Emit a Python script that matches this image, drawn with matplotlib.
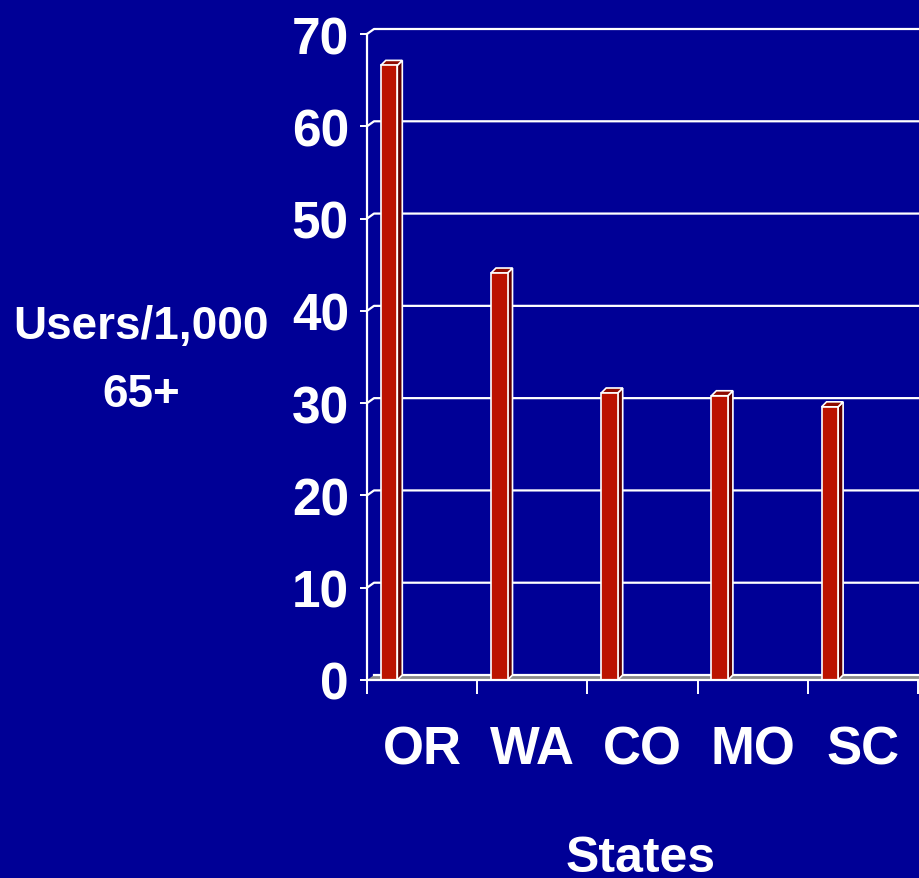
import matplotlib
matplotlib.use("Agg")
import matplotlib.pyplot as plt
from matplotlib.patches import Polygon

# users per 1,000 people aged 65+
states = ["OR", "WA", "CO", "MO", "SC"]
users = [66.6, 44.1, 31.1, 30.8, 29.6]
y_ticks = [0, 10, 20, 30, 40, 50, 60, 70]

bg = "#000096"
red = "#BB1200"
red_side = "#5E0000"
red_top = "#8E0A00"
font = ["Liberation Sans", "DejaVu Sans"]

plt.rcParams["font.family"] = font
plt.rcParams["font.weight"] = "bold"

fig = plt.figure(figsize=(9.19, 8.79), dpi=100, facecolor=bg)
ax = fig.add_axes([367 / 919, 198 / 879, 552 / 919, 646 / 879])
ax.set_facecolor(bg)

xmax = 552 / 110.2
ax.set_xlim(0, xmax)
ax.set_ylim(0, 70)

# depth of the 3d look, in data units
ppx = 110.2      # pixels per category
ppy = 646 / 70   # pixels per y unit
wall_dx, wall_dy = 7 / ppx, 5 / ppy
bar_dx, bar_dy = 5 / ppx, 5 / ppy

# back wall gridlines
for t in y_ticks[1:]:
    ax.plot([0, wall_dx, xmax], [t, t + wall_dy, t + wall_dy],
            color="white", lw=1.6, clip_on=False, zorder=1)

# floor
floor = Polygon([(0, 0), (wall_dx, wall_dy), (xmax, wall_dy), (xmax, 0)],
                closed=True, facecolor="#8a8a8a", edgecolor="none", zorder=1)
ax.add_patch(floor)
ax.plot([wall_dx, xmax], [wall_dy, wall_dy], color="white", lw=1.6, zorder=1)

# bars with side and top faces
w = 0.15
for i, v in enumerate(users):
    x0 = i + 0.125
    side = Polygon([(x0 + w, 0), (x0 + w + bar_dx, bar_dy),
                    (x0 + w + bar_dx, v + bar_dy), (x0 + w, v)],
                   closed=True, facecolor=red_side, edgecolor="white",
                   lw=1.2, zorder=3)
    top = Polygon([(x0, v), (x0 + bar_dx, v + bar_dy),
                   (x0 + w + bar_dx, v + bar_dy), (x0 + w, v)],
                  closed=True, facecolor=red_top, edgecolor="white",
                  lw=1.2, zorder=3)
    ax.add_patch(side)
    ax.add_patch(top)
    ax.bar(x0, v, width=w, align="edge", color=red, edgecolor="white",
           linewidth=1.2, zorder=4)

for s in ["top", "right"]:
    ax.spines[s].set_visible(False)
for s in ["left", "bottom"]:
    ax.spines[s].set_color("white")
    ax.spines[s].set_linewidth(1.6)
    ax.spines[s].set_zorder(5)

ax.set_yticks(y_ticks)
ax.set_yticklabels([str(t) for t in y_ticks])
ax.tick_params(axis="y", colors="white", length=5, width=1.4,
               labelsize=37, pad=8)

ax.set_xticks(range(6))
ax.set_xticklabels([])
ax.set_xticks([i + 0.5 for i in range(5)], minor=True)
ax.set_xticklabels(states, minor=True)
ax.tick_params(axis="x", which="major", colors="white", length=10, width=1.4)
ax.tick_params(axis="x", which="minor", length=0, colors="white",
               labelsize=38, pad=32)

for lab in ax.get_xticklabels(minor=True) + ax.get_yticklabels():
    lab.set_fontweight("bold")
    lab.set_family(font)

fig.text(141 / 919, 1 - 361 / 879, "Users/1,000\n65+", color="white",
         fontsize=33, fontweight="bold", ha="center", va="center",
         linespacing=1.7, family=font)
fig.text(641 / 919, 1 - 859 / 879, "States", color="white", fontsize=36,
         fontweight="bold", ha="center", va="center", family=font)

fig.savefig("out.png", dpi=100, facecolor=bg)
